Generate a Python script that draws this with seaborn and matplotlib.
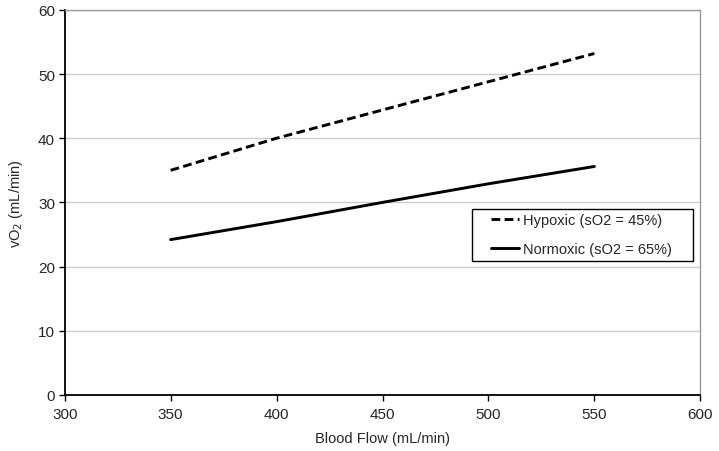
import pandas as pd
import matplotlib
matplotlib.use("Agg")
import matplotlib.pyplot as plt
from matplotlib.patches import Rectangle
import seaborn as sns

# data
blood_flow = [350, 400, 450, 500, 550]
hypoxic = [35.0, 40.0, 44.4, 48.8, 53.2]
normoxic = [24.2, 27.0, 30.0, 32.9, 35.6]
series_names = ["Hypoxic (sO2 = 45%)", "Normoxic (sO2 = 65%)"]

sns.set_theme(style="white")
plt.rcParams["font.family"] = ["Liberation Sans", "DejaVu Sans"]

df = pd.DataFrame({
    "flow": blood_flow * 2,
    "vo2": hypoxic + normoxic,
    "series": [series_names[0]] * len(blood_flow) + [series_names[1]] * len(blood_flow),
})

fig, ax = plt.subplots(figsize=(7.19, 4.52), dpi=100)
fig.subplots_adjust(left=0.090, right=0.974, top=0.976, bottom=0.124)

sns.lineplot(
    data=df, x="flow", y="vo2", style="series", hue="series",
    palette=["black", "black"],
    dashes={series_names[0]: (3, 1.5), series_names[1]: ""},
    linewidth=2.1, ax=ax,
)

ax.set_xlim(300, 600)
ax.set_ylim(0, 60)
ax.set_xticks(range(300, 601, 50))
ax.set_yticks(range(0, 61, 10))
ax.yaxis.grid(True, color="#cccccc", linewidth=1)
ax.set_axisbelow(True)

for side in ["top", "right"]:
    ax.spines[side].set_color("#999999")
    ax.spines[side].set_linewidth(1)
for side in ["left", "bottom"]:
    ax.spines[side].set_color("black")
    ax.spines[side].set_linewidth(1.3)

ax.tick_params(axis="x", direction="out", length=4, width=1, color="black",
               labelsize=11, bottom=True, pad=5)
ax.tick_params(axis="y", direction="out", length=4, width=1, color="black",
               labelsize=11, left=True, pad=3)

ax.set_xlabel("Blood Flow (mL/min)", fontsize=10.5, labelpad=7)
ax.set_ylabel("vO$_2$ (mL/min)", fontsize=10.5, labelpad=9)

# legend without frame, box drawn around it with wider side padding
leg = ax.legend(loc="upper left", bbox_to_anchor=(0.671, 0.472), fontsize=10.5,
                frameon=False, handlelength=1.9, handletextpad=0.3,
                borderpad=0, borderaxespad=0, labelspacing=1.0)
leg.set_zorder(5)
fig.canvas.draw()
bb = leg.get_window_extent()
(x0, y0), (x1, y1) = fig.transFigure.inverted().transform(
    [(bb.x0 - 19, bb.y0 - 5), (bb.x1 + 21, bb.y1 + 4)])
ax.add_patch(Rectangle((x0, y0), x1 - x0, y1 - y0, transform=fig.transFigure,
                       fill=True, facecolor="white", edgecolor="black",
                       linewidth=1, zorder=4, clip_on=False))

plt.savefig("out.png", dpi=100)
plt.close()
